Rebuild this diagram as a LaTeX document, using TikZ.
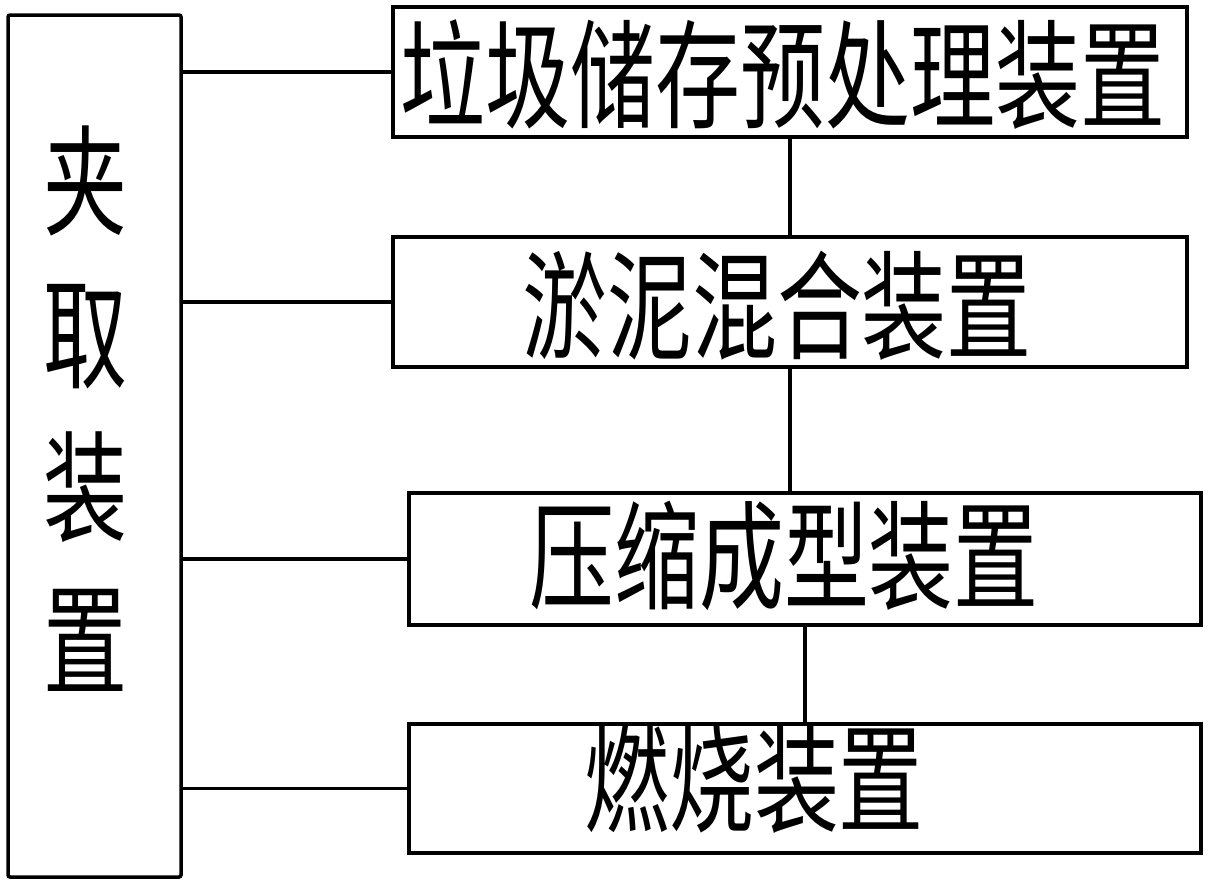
\documentclass[tikz,border=0pt]{standalone}
\usepackage{fontspec}
\newfontfamily\cjk[FakeStretch=0.72]{Noto Sans CJK SC}
\newfontfamily\cjkl[FakeStretch=0.70]{Noto Sans CJK SC}
\tikzset{
  boxnode/.style={draw, line width=3.5pt, rectangle, inner sep=0pt},
  txt/.style={inner sep=0pt, font=\cjk\fontsize{118}{118}\selectfont},
  conn/.style={line width=3.5pt}
}
\begin{document}
\begin{tikzpicture}[x=1pt,y=-1pt]
\useasboundingbox (0,0) rectangle (1211,889);
\node[boxnode, rounded corners=2pt, minimum width=173pt, minimum height=862pt] (left) at (94.5,446) {};
\node[boxnode, minimum width=794pt, minimum height=130pt] (b1) at (790,72) {};
\node[boxnode, minimum width=794pt, minimum height=130pt] (b2) at (790,302) {};
\node[boxnode, minimum width=792pt, minimum height=132pt] (b3) at (805,559) {};
\node[boxnode, minimum width=792pt, minimum height=129pt] (b4) at (805,788.5) {};
\node[inner sep=0pt, align=center, font=\cjkl\fontsize{120}{153}\selectfont] (lt) at (85,409) {夹\\取\\装\\置};
\node[txt] (t1) at (783,75) {垃圾储存预处理装置};
\node[txt] (t2) at (777,306) {淤泥混合装置};
\node[txt] (t3) at (784,556) {压缩成型装置};
\node[txt] (t4) at (754,779) {燃烧装置};
\draw[conn] (b1.west) -- (b1.west -| left.east);
\draw[conn] (b2.west) -- (b2.west -| left.east);
\draw[conn] (b3.west) -- (b3.west -| left.east);
\draw[conn] (b4.west) -- (b4.west -| left.east);
\draw[conn] (b1.south) -- (b2.north);
\draw[conn] (b2.south) -- (b2.south |- b3.north);
\draw[conn] (b3.south) -- (b4.north);
\end{tikzpicture}
\end{document}
